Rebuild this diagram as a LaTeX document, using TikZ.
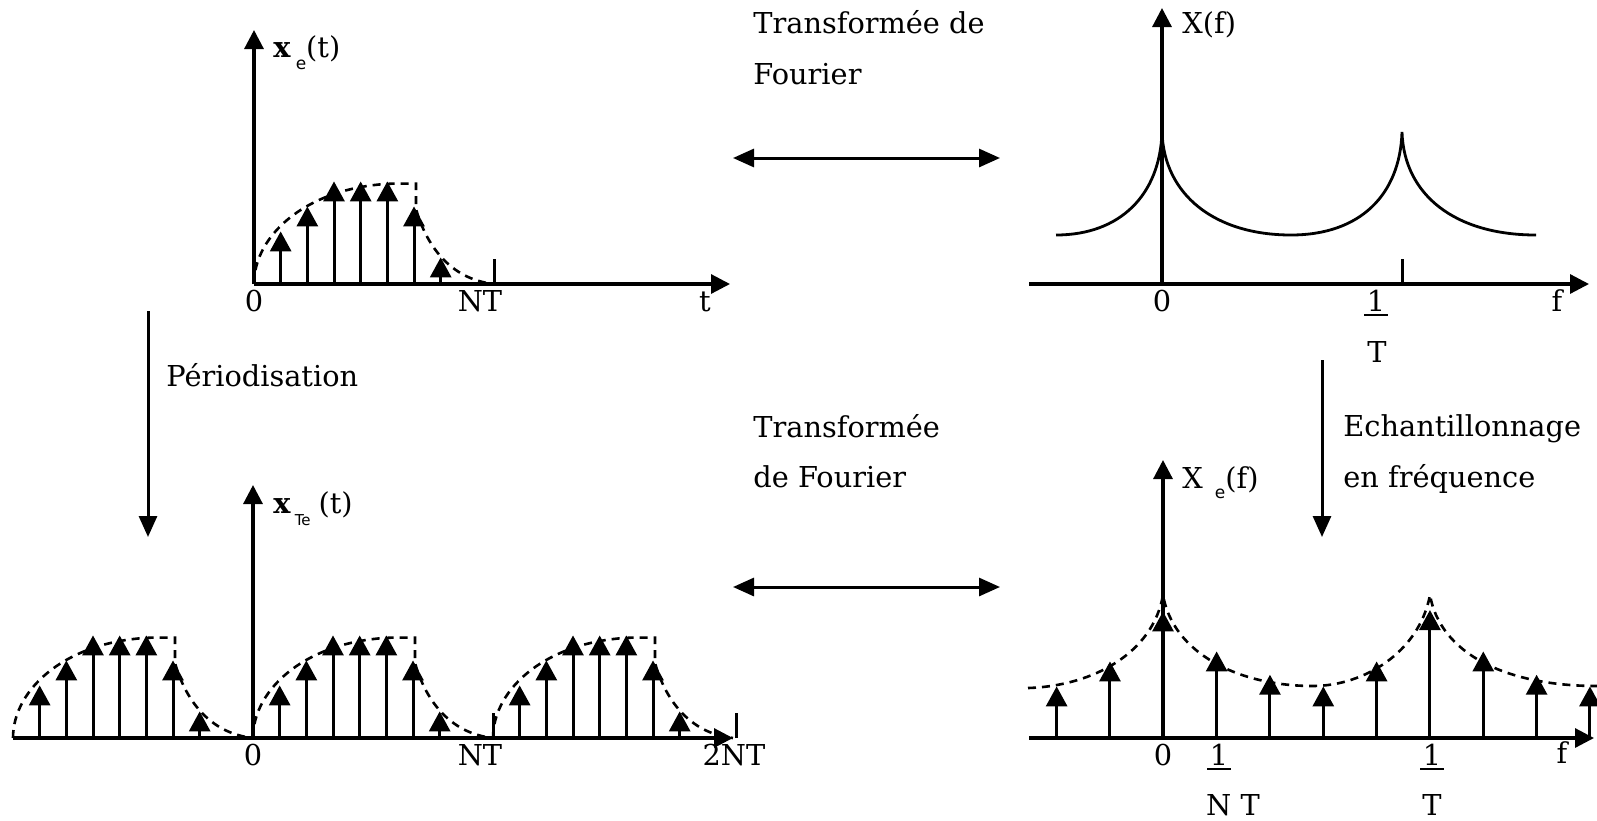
\documentclass[tikz,border=0pt]{standalone}
\usepackage{fontspec}
\setmainfont{DejaVu Serif}
\newfontfamily\subfont{DejaVu Sans}
\usetikzlibrary{arrows.meta}
\begin{document}
\begin{tikzpicture}[x=0.5pt,y=-0.5pt,
  axis/.style={line width=1.6pt,-{Triangle[length=9.5pt,width=9.5pt]}},
  stem/.style={line width=1.5pt,-{Triangle[length=10pt,width=10.5pt]}},
  env/.style={line width=1.3pt,dash pattern=on 4pt off 3pt},
  spec/.style={line width=1.4pt},
  tickmark/.style={line width=1.5pt},
  uline/.style={line width=1.3pt},
  lbl/.style={font=\fontsize{14.4}{17}\selectfont,inner sep=0pt},
  dbl/.style={line width=1.5pt,{Triangle[length=10.5pt,width=9pt]}-{Triangle[length=10.5pt,width=9pt]}},
  downarrow/.style={line width=1.5pt,-{Triangle[length=10.5pt,width=9pt]}},
  pics/period/.style={code={
    \draw[env] (0,0) .. controls (0,-50) and (55,-98) .. (140,-100.4) -- (162,-100.4) -- (162,-75)
      .. controls (172,-40) and (195,-5) .. (240,0);
    \foreach \k/\h in {1/52.6,2/77.6,3/102.6,4/102.6,5/102.6,6/77.6,7/26.6}
      \draw[stem] (26.67*\k,0) -- (26.67*\k,-\h);
  }}
]
\fill[white] (0,0) rectangle (1597,820);
\useasboundingbox (0,0) rectangle (1597,820);

% ---------- top-left: x_e(t) ----------
\coordinate (A0) at (254,284);
\coordinate (Atop) at (254,30);
\coordinate (Aend) at (730,284);
\coordinate (AtickB) at (494,284);
\coordinate (AtickT) at (494,259);
\pic at (A0) {period};
\draw[axis] (A0) -- (Atop);
\draw[axis] (A0) -- (Aend);
\draw[tickmark] (AtickB) -- (AtickT);
\node[lbl,anchor=base] (a0) at (254,311) {0};
\node[lbl,anchor=base] (aNT) at (480,311) {NT};
\node[lbl,anchor=base] (at) at (705,311) {t};
\node[lbl,anchor=base west] (axe) at (273,57) {\textbf{x}\hspace{2.5pt}\raisebox{-6.3pt}{\subfont\fontsize{8.5}{8.5}\selectfont e}(t)};

% ---------- bottom-left: x_Te(t) ----------
\coordinate (B0) at (253,738);
\coordinate (Btop) at (253,485);
\coordinate (Bstart) at (13,738);
\coordinate (Bend) at (733,738);
\coordinate (Bt1B) at (493,738);
\coordinate (Bt1T) at (493,713);
\coordinate (Bt2B) at (736,738);
\coordinate (Bt2T) at (736,713);
\pic at (13,738) {period};
\pic at (253,738) {period};
\pic at (493,738) {period};
\draw[axis] (B0) -- (Btop);
\draw[axis] (Bstart) -- (Bend);
\draw[tickmark] (Bt1B) -- (Bt1T);
\draw[tickmark] (Bt2B) -- (Bt2T);
\node[lbl,anchor=base] (b0) at (253,765) {0};
\node[lbl,anchor=base] (bNT) at (480,765) {NT};
\node[lbl,anchor=base] (b2NT) at (734,765) {2NT};
\node[lbl,anchor=base west] (bxte) at (273,513) {\textbf{x}\hspace{2pt}\raisebox{-6pt}{\subfont\fontsize{7.5}{7.5}\selectfont Te}\hspace{4pt}(t)};

% ---------- top-right: X(f) ----------
\coordinate (C0) at (1162,284);
\coordinate (Ctop) at (1162,8);
\coordinate (Cstart) at (1029,284);
\coordinate (Cend) at (1589,284);
\coordinate (CtickB) at (1402,284);
\coordinate (CtickT) at (1402,259);
\draw[spec] (1056,235) .. controls (1120,235) and (1160,195) .. (1162,132)
  .. controls (1164,195) and (1215,235) .. (1291,235)
  .. controls (1360,235) and (1400,195) .. (1402,132)
  .. controls (1404,195) and (1455,235) .. (1536,235);
\draw[axis] (C0) -- (Ctop);
\draw[axis] (Cstart) -- (Cend);
\draw[tickmark] (CtickB) -- (CtickT);
\node[lbl,anchor=base] (c0) at (1162,311) {0};
\node[lbl,anchor=base,inner xsep=1pt] (c1) at (1376,311) {1};
\draw[uline] ([yshift=-2pt]c1.base west) -- ([yshift=-2pt]c1.base east);
\node[lbl,anchor=base] (cT) at (1377,362) {T};
\node[lbl,anchor=base] (cf) at (1557,311) {f};
\node[lbl,anchor=base west] (cX) at (1182,33) {X(f)};

% ---------- bottom-right: X_e(f) ----------
\coordinate (D0) at (1163,738);
\coordinate (Dtop) at (1163,460);
\coordinate (Dstart) at (1029,738);
\coordinate (Dend) at (1594,738);
\draw[env] (1028,688) .. controls (1093,686) and (1153,653) .. (1163,595)
  .. controls (1173,653) and (1238,686) .. (1313,686)
  .. controls (1363,686) and (1419,653) .. (1430,595)
  .. controls (1440,653) and (1505,686) .. (1597,686);
\foreach \k/\h in {-2/51.6,-1/76.6,1/86.6,2/63.3,3/51.6,4/76.6,5/128,6/86.6,7/63.3,8/51.6}
  \draw[stem] (1163.3+53.33*\k,738) -- (1163.3+53.33*\k,738-\h);
\draw[stem] (D0) -- (1163,611.4);
\draw[axis] (D0) -- (Dtop);
\draw[axis] (Dstart) -- (Dend);
\node[lbl,anchor=base] (d0) at (1163,765) {0};
\node[lbl,anchor=base,inner xsep=1pt] (d1) at (1219,765) {1};
\draw[uline] ([yshift=-2pt]d1.base west) -- ([yshift=-2pt]d1.base east);
\node[lbl,anchor=base] (dNT) at (1233,815) {N T};
\node[lbl,anchor=base,inner xsep=1pt] (d2) at (1432,765) {1};
\draw[uline] ([yshift=-2pt]d2.base west) -- ([yshift=-2pt]d2.base east);
\node[lbl,anchor=base] (dT) at (1432,815) {T};
\node[lbl,anchor=base] (df) at (1562,763) {f};
\node[lbl,anchor=base west] (dXe) at (1182,488) {X\hspace{6pt}\raisebox{-5pt}{\subfont\fontsize{8.5}{8.5}\selectfont e}(f)};

% ---------- transforms ----------
\coordinate (TL) at (733,158);
\coordinate (TR) at (1000,158);
\draw[dbl] (TL) -- (TR);
\node[lbl,anchor=base west] (tf1) at (753,33) {Transformée de};
\node[lbl,anchor=base west] (tf2) at (753,84) {Fourier};

\coordinate (BL) at (733,587);
\coordinate (BR) at (1000,587);
\draw[dbl] (BL) -- (BR);
\node[lbl,anchor=base west] (tf3) at (753,437) {Transformée};
\node[lbl,anchor=base west] (tf4) at (753,487) {de Fourier};

\coordinate (PA) at (148,311);
\coordinate (PB) at (148,537);
\draw[downarrow] (PA) -- (PB);
\node[lbl,anchor=base west] (per) at (166,386) {Périodisation};

\coordinate (EA) at (1322,360);
\coordinate (EB) at (1322,537);
\draw[downarrow] (EA) -- (EB);
\node[lbl,anchor=base west] (ech1) at (1343,436) {Echantillonnage};
\node[lbl,anchor=base west] (ech2) at (1343,487) {en fréquence};
\end{tikzpicture}
\end{document}
